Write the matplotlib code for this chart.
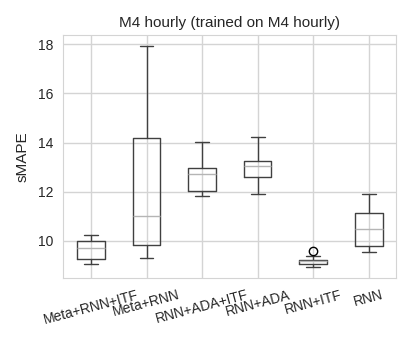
import matplotlib
matplotlib.use("Agg")
import matplotlib.pyplot as plt
import seaborn as sns

sns.set_style("whitegrid")
plt.rcParams["font.family"] = ["Liberation Sans", "DejaVu Sans"]

labels = ["Meta+RNN+ITF", "Meta+RNN", "RNN+ADA+ITF", "RNN+ADA", "RNN+ITF", "RNN"]
whisker_low = [9.07, 9.32, 11.82, 11.90, 8.94, 9.54]
q1 = [9.25, 9.84, 12.04, 12.58, 9.07, 9.78]
median = [9.70, 11.02, 12.73, 13.04, 9.16, 10.50]
q3 = [9.98, 14.20, 12.97, 13.24, 9.23, 11.12]
whisker_high = [10.24, 17.92, 14.03, 14.21, 9.37, 11.89]
outliers = [[], [], [], [], [9.58], []]

stats = []
for i in range(len(labels)):
    stats.append(dict(label=labels[i], whislo=whisker_low[i], q1=q1[i], med=median[i],
                      q3=q3[i], whishi=whisker_high[i], fliers=outliers[i]))

fig = plt.figure(figsize=(4.13, 3.44), dpi=100)
ax = fig.add_axes([0.153, 0.192, 0.807, 0.706])

box_color = "#404040"
ax.bxp(stats, widths=0.5,
       boxprops=dict(color=box_color, linewidth=1.0),
       whiskerprops=dict(color=box_color, linewidth=1.0),
       capprops=dict(color=box_color, linewidth=1.0),
       medianprops=dict(color="#b5b5b5", linewidth=1.0),
       flierprops=dict(marker="o", markerfacecolor="none", markeredgecolor="black",
                       markersize=6, markeredgewidth=1.0))

ax.set_xlim(0.5, 6.5)
ax.set_ylim(8.49, 18.37)
ax.set_yticks([10, 12, 14, 16, 18])
ax.grid(True, color="#d4d4d4", linewidth=1.0)
ax.set_axisbelow(True)
for s in ax.spines.values():
    s.set_color("#d4d4d4")
ax.tick_params(axis="x", labelrotation=15, labelsize=10, colors="#262626")
ax.tick_params(axis="y", labelsize=10, colors="#262626")
ax.set_ylabel("sMAPE", fontsize=11, color="#262626", labelpad=6)
ax.set_title("M4 hourly (trained on M4 hourly)", fontsize=11, color="#262626")

fig.savefig("out.png", dpi=100)
